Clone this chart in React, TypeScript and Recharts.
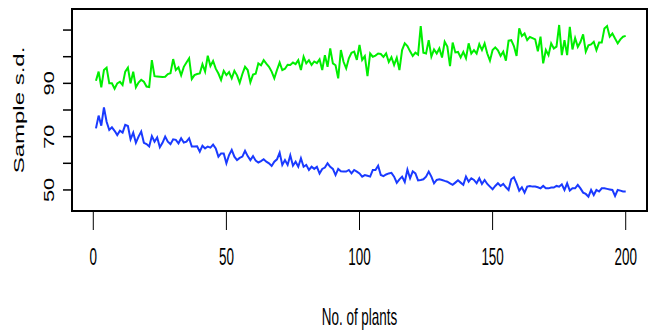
import { LineChart, Line, XAxis, YAxis, ReferenceArea } from "recharts"

const greenSd = [
  91, 94.4, 88.5, 95, 95.9, 90, 90, 88, 90, 90.6,
  89.4, 94.4, 95.9, 90, 94.4, 88.5, 90.3, 91.3, 90.6, 88.8,
  88.6, 98.7, 92.7, 92.6, 92.5, 92.4, 92.5, 93.5, 93.8, 99.1,
  95, 96, 93, 96.2, 97.8, 99.4, 91.6, 93.1, 93.5, 93.7,
  97.2, 94.4, 100.4, 96.5, 98.4, 95.5, 93.7, 91.3, 94.7, 93.1,
  94.2, 91.9, 94.7, 93, 90.2, 93.5, 96.2, 95, 90.4, 93.3,
  93.6, 97.5, 96.8, 98.7, 97.4, 96.2, 94.4, 91.9, 95, 97.8,
  95, 95.5, 97, 96.9, 97.8, 97.2, 98.7, 95, 100, 97.5,
  98.7, 96.9, 98.2, 97.6, 99, 95, 100.6, 96.2, 103.1, 97.5,
  96.8, 91.9, 102.5, 98.1, 95.6, 99.4, 101.5, 101.9, 98.8, 104.4,
  98.8, 100.2, 92.7, 101.2, 100, 100.4, 101.2, 101, 99.9, 101.2,
  98, 99.8, 96.9, 99.6, 95, 102.5, 105, 104, 102, 100.3,
  101.5, 100.8, 111.5, 101.5, 101.2, 106.2, 100, 102.7, 101.2, 103.1,
  99.7, 105.6, 103.8, 96.5, 105.3, 101.6, 101.8, 99.7, 101.8, 99.4,
  105, 101.2, 102.5, 101.2, 104.7, 102.5, 105, 101.2, 98.5, 102.5,
  103.5, 102.4, 100.3, 101.9, 98.5, 106, 106.2, 104, 100.3, 110.6,
  107.8, 108.7, 106.2, 107.4, 107, 106.5, 102, 107.5, 97.5, 102.5,
  100.6, 105, 103.1, 103.8, 111.9, 100.6, 106.2, 100.6, 111.2, 102.7,
  107, 103.7, 105.5, 108.4, 101.9, 104.3, 104.6, 105.6, 102.5, 105.3,
  105.3, 110.6, 111.5, 107.5, 108.7, 106.8, 105, 106.5, 107.5, 107.8,
]

const blueSd = [
  73.1, 77.9, 74.1, 81, 75.6, 72.5, 73.5, 72.2, 70.6, 72.2,
  71.5, 74.4, 74, 69, 71.5, 67.7, 70, 71.9, 67.7, 67.2,
  66.3, 70.2, 68.1, 69.7, 66, 67.7, 70, 68.1, 67.2, 69,
  68.8, 67.5, 69.4, 67.8, 68.1, 69.4, 66.3, 66.3, 66.4, 64.4,
  66.6, 65.6, 66.3, 65.9, 67, 65.6, 62.5, 63.7, 63.7, 60,
  63.1, 65, 62.5, 61.2, 62, 62.5, 64.7, 62.7, 61.2, 62.7,
  61, 60.3, 60.8, 61.5, 60.6, 60, 59, 60.6, 61.5, 64,
  59.4, 61.2, 59.4, 63, 59.1, 60.6, 58.7, 61.9, 58.7, 59.4,
  57.5, 58.7, 57.9, 58.7, 56.2, 57.9, 58.4, 60, 58.7, 57.9,
  55.6, 57.9, 57, 56.9, 56.9, 57.5, 56.2, 57.5, 56.9, 56.2,
  55, 55.6, 55.3, 55, 57.5, 57.5, 59.1, 55.6, 55.2, 55.8,
  56.2, 56.4, 55, 52.7, 54, 55, 53, 57.6, 54.4, 57,
  56.2, 53.6, 53.75, 54, 55, 56.9, 55, 52.5, 53.75, 54,
  53.75, 53.4, 53.1, 52.5, 51.9, 52.75, 53.6, 52.75, 51.9, 55,
  53.1, 54.4, 53.75, 52.5, 54.4, 52.25, 53.75, 52.25, 51.25, 50.25,
  51.5, 52.5, 51.5, 52.25, 51, 50, 54, 54.75, 52.5, 49.75,
  51, 49, 51.25, 51.5, 51.25, 51.25, 51, 50.6, 51.5, 50.6,
  50.6, 50.9, 50.9, 51.5, 51.2, 52.1, 50, 52.5, 49.75, 50.6,
  50.6, 51.9, 50.6, 49, 48.5, 47.5, 50, 48.1, 50, 49.4,
  50.6, 50.6, 50.4, 50.2, 50, 47.75, 50, 49.75, 49.4, 49.4,
]

const xTicks = [0, 50, 100, 150, 200]
const yTicks = [50, 60, 70, 80, 90, 100, 110]
const yLabelled = [50, 70, 90]

const data = greenSd.map((g, i) => ({ plants: i + 1, green: g, blue: blueSd[i] }))

const FONT = "'Liberation Sans', Arial, Helvetica, sans-serif"

const XTick = (props: any) => {
  const { x, y, payload } = props
  return (
    <text transform={`translate(${x},${y + 33}) scale(0.56,1)`} textAnchor="middle"
      fontFamily={FONT} fontSize={24} fill="#000">
      {payload.value}
    </text>
  )
}

const YTick = (props: any) => {
  const { y, payload } = props
  if (!yLabelled.includes(payload.value)) return null
  return (
    <text transform={`translate(53.5,${y}) rotate(-90) scale(1.45,1)`} textAnchor="middle"
      fontFamily={FONT} fontSize={15} fill="#000">
      {payload.value}
    </text>
  )
}

const XTitle = (props: any) => {
  const { x, y, width } = props.viewBox
  return (
    <text transform={`translate(${x + width / 2},${y + 114}) scale(0.56,1)`} textAnchor="middle"
      fontFamily={FONT} fontSize={24} fill="#000">
      No. of plants
    </text>
  )
}

const YTitle = (props: any) => {
  const { x, y, height } = props.viewBox
  return (
    <text transform={`translate(${x + 24},${y + height / 2}) rotate(-90) scale(1.6,1)`} textAnchor="middle"
      fontFamily={FONT} fontSize={15} fill="#000">
      Sample s.d.
    </text>
  )
}

export default function App() {
  return (
    <div style={{ position: "absolute", left: 0, top: 0, width: 656, height: 331, background: "#fff" }}>
      <LineChart width={656} height={331} data={data} margin={{ top: 9, right: 9, left: 0, bottom: 0 }}>
        <XAxis dataKey="plants" type="number" domain={[-8, 208]} ticks={xTicks} allowDataOverflow
          height={120} tickSize={19} axisLine={false} tickLine={{ stroke: "#000", strokeWidth: 1 }}
          tick={<XTick />} label={{ content: <XTitle /> }} />
        <YAxis type="number" domain={[42.1, 117.9]} ticks={yTicks} allowDataOverflow
          width={72} tickSize={9} axisLine={false} tickLine={{ stroke: "#000", strokeWidth: 1.5 }}
          tick={<YTick />} label={{ content: <YTitle /> }} />
        <Line type="linear" dataKey="green" stroke="#00ee00" strokeWidth={2} dot={false} isAnimationActive={false} />
        <Line type="linear" dataKey="blue" stroke="#1a3aff" strokeWidth={2} dot={false} isAnimationActive={false} />
        <ReferenceArea x1={-8} x2={208} y1={42.1} y2={117.9} fill="none" stroke="#000" strokeWidth={2} ifOverflow="visible" />
      </LineChart>
    </div>
  )
}
